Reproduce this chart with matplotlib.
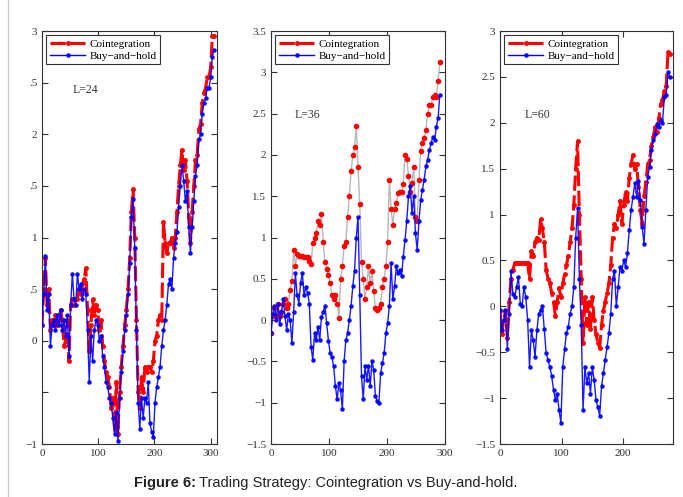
import numpy as np
import matplotlib.pyplot as plt
from matplotlib.lines import Line2D

# ---- data (x step = 3 trading days) ----
coint_24 = [0.15, 0.5, 0.8, 0.35, 0.5, 0.1, 0.2, 0.15, 0.25, 0.15, 0.2, 0.3, 0.2, -0.05, 0.0, 0.2,
            -0.2, 0.35, 0.4, 0.35, 0.4, 0.4, 0.5, 0.45, 0.55, 0.6, 0.7, 0.3, -0.1, 0.15, 0.4, 0.25,
            0.35, 0.3, 0.1, 0.2, -0.05, -0.2, -0.3, -0.35, -0.45, -0.65, -0.55, -0.85, -0.4, -0.9,
            -0.5, -0.25, -0.05, 0.15, 0.3, 0.5, 0.8, 1.25, 1.47, 1.0, 0.2, -0.5, -0.65, -0.35, -0.5,
            -0.25, -0.3, -0.25, -0.25, -0.3, -0.2, 0.0, 0.05, 0.2, 0.25, 0.2, 1.15, 0.95, 0.85, 0.95,
            0.95, 1.0, 0.9, 1.0, 1.25, 1.5, 1.7, 1.85, 1.65, 1.75, 1.55, 1.2, 0.95, 1.25, 1.5, 1.75,
            1.8, 2.05, 2.1, 2.3, 2.4, 2.45, 2.55, 2.55, 2.65, 2.95, 2.95]
bh_24 = [0.15, 0.45, 0.82, 0.3, 0.45, -0.05, 0.15, 0.2, 0.1, 0.25, 0.15, 0.3, 0.1, 0.2, 0.05, 0.25,
         -0.15, 0.35, 0.65, 0.4, 0.35, 0.65, 0.5, 0.55, 0.4, 0.5, 0.45, 0.1, -0.4, 0.05, -0.2, 0.1,
         0.2, 0.15, 0.0, 0.05, -0.15, -0.25, -0.4, -0.45, -0.55, -0.6, -0.75, -0.9, -0.7, -0.97,
         -0.55, -0.3, -0.1, 0.1, 0.25, 0.45, 0.75, 1.2, 1.37, 0.9, 0.1, -0.6, -0.85, -0.55, -0.75,
         -0.55, -0.6, -0.4, -0.8, -0.88, -0.93, -0.6, -0.45, -0.35, -0.25, -0.05, 0.1, 0.2, 0.35,
         0.55, 0.6, 0.5, 0.8, 0.95, 1.05, 1.3, 1.5, 1.7, 1.55, 1.35, 1.45, 1.1, 0.85, 1.1, 1.35,
         1.6, 1.7, 1.95, 2.0, 2.2, 2.3, 2.35, 2.45, 2.45, 2.55, 2.75, 2.82]

coint_36 = [-0.16, 0.05, 0.15, 0.05, 0.2, 0.05, 0.1, 0.2, 0.25, 0.15, 0.2, 0.37, 0.47, 0.85, 0.65,
            0.8, 0.78, 0.78, 0.78, 0.77, 0.77, 0.76, 0.72, 0.68, 0.93, 1.0, 1.05, 1.2, 1.15, 1.28,
            0.95, 0.7, 0.62, 0.55, 0.45, 0.3, 0.25, 0.3, 0.2, 0.03, 0.5, 0.65, 0.9, 0.95, 1.25, 1.5,
            1.8, 2.0, 2.1, 2.35, 1.85, 1.4, 0.7, 0.5, 0.25, 0.4, 0.65, 0.45, 0.6, 0.35, 0.15, 0.12,
            0.15, 0.2, 0.4, 0.5, 0.65, 0.95, 1.7, 1.35, 1.15, 1.35, 1.42, 1.54, 1.55, 1.55, 1.65,
            2.0, 1.95, 1.75, 1.55, 1.66, 1.85, 1.25, 1.2, 1.7, 2.05, 2.15, 2.2, 2.3, 2.5, 2.6, 2.6,
            2.7, 2.72, 2.7, 2.9, 3.12]
bh_36 = [-0.16, 0.08, 0.17, 0.0, 0.19, -0.05, 0.1, 0.25, 0.05, -0.12, 0.08, 0.0, -0.28, 0.1, 0.57,
         0.3, 0.2, 0.45, 0.57, 0.3, 0.4, 0.33, 0.2, -0.32, -0.48, -0.16, -0.24, -0.08, -0.24, 0.04,
         0.1, 0.17, -0.04, -0.25, -0.4, -0.45, -0.56, -0.8, -0.96, -0.76, -0.85, -1.08, -0.5, -0.24,
         -0.16, 0.0, 0.17, 0.41, 0.6, 1.0, 1.25, 0.3, -0.68, -0.96, -0.56, -0.72, -0.55, -0.8, -0.5,
         -0.6, -0.92, -0.98, -1.0, -0.64, -0.52, -0.4, -0.16, -0.04, 0.17, 0.69, 0.25, 0.41, 0.65,
         0.57, 0.61, 0.53, 0.77, 0.97, 1.2, 1.5, 1.62, 1.3, 1.5, 1.05, 0.85, 1.2, 1.45, 1.58, 1.7,
         1.86, 1.94, 2.06, 2.14, 2.22, 2.18, 2.34, 2.45, 2.73]

coint_60 = [-0.05, -0.3, -0.15, -0.05, -0.35, 0.05, 0.3, 0.4, 0.47, 0.47, 0.47, 0.47, 0.47, 0.47,
            0.47, 0.47, 0.3, 0.6, 0.55, 0.7, 0.75, 0.72, 0.95, 0.85, 0.7, 0.4, 0.3, 0.25, 0.15, 0.05,
            -0.1, 0.05, 0.2, 0.1, 0.25, 0.35, 0.45, 0.55, 0.7, 0.85, 1.1, 1.5, 1.8, 1.0, 0.3, -0.4,
            0.1, -0.2, 0.05, -0.25, 0.1, -0.15, -0.3, -0.4, -0.45, -0.2, -0.05, 0.05, 0.15, 0.25,
            0.45, 0.75, 0.9, 0.85, 1.0, 1.15, 0.9, 1.1, 1.25, 1.15, 1.4, 1.55, 1.65, 1.5, 1.55, 1.3,
            1.05, 0.9, 1.2, 1.35, 1.55, 1.6, 1.75, 1.85, 1.95, 1.9, 2.05, 2.2, 2.25, 2.35, 2.4, 2.77,
            2.75]
bh_60 = [-0.04, -0.26, -0.15, -0.04, -0.46, -0.08, 0.38, 0.14, 0.1, 0.21, 0.32, 0.03, 0.0, 0.21,
         0.1, -0.15, -0.66, -0.26, -0.37, -0.55, -0.26, -0.08, -0.04, 0.0, -0.25, -0.51, -0.58,
         -0.66, -0.76, -0.91, -1.02, -0.95, -1.13, -1.27, -0.66, -0.47, -0.29, -0.22, -0.08, 0.0,
         0.21, 0.75, 1.07, 0.3, -0.2, -1.13, -0.66, -0.84, -0.73, -0.95, -0.66, -0.8, -1.02, -1.1,
         -1.19, -0.87, -0.73, -0.58, -0.44, -0.29, -0.08, 0.3, 0.39, 0.0, 0.21, 0.43, 0.39, 0.5,
         0.43, 0.58, 0.83, 1.05, 1.19, 1.34, 1.19, 1.37, 1.16, 0.87, 0.68, 1.05, 1.41, 1.52, 1.7,
         1.81, 1.88, 1.99, 1.95, 2.03, 2.0, 2.28, 2.3, 2.55, 2.5]

labels = ["L=24", "L=36", "L=60"]
xmax = [311, 300, 281]
ylims = [(-1, 3), (-1.5, 3.5), (-1.5, 3)]
xticks = [[0, 100, 200, 300], [0, 100, 200, 300], [0, 100, 200]]
label_pos = [(55, 2.4), (40, 2.45), (40, 2.05)]

plt.rcParams['font.family'] = ['Liberation Serif', 'DejaVu Serif']

fig = plt.figure(figsize=(6.83, 4.97), dpi=100)
lefts = [0.0615, 0.3968, 0.732]
widths = [0.256, 0.2548, 0.2533]

series = [(coint_24, bh_24), (coint_36, bh_36), (coint_60, bh_60)]
for i in range(3):
    ax = fig.add_axes([lefts[i], 0.1066, widths[i], 0.831])
    c, b = series[i]
    xc = np.arange(len(c)) * 3
    xb = np.arange(len(b)) * 3
    if i == 1:
        ax.plot(xc, c, color='0.72', lw=1.0, zorder=1)
        ax.plot(xc, c, 'r.', ms=6, zorder=2)
    else:
        ax.plot(xc, c, color='red', ls=(0, (5, 1.5)), lw=2.2, marker='.', ms=5, zorder=2)
    ax.plot(xb, b, color='blue', lw=1.0, marker='.', ms=4.5, zorder=3, alpha=0.9)

    ax.set_xlim(0, xmax[i])
    ax.set_ylim(*ylims[i])
    ax.set_xticks(xticks[i])
    yt = np.arange(ylims[i][0], ylims[i][1] + 0.01, 0.5)
    ax.set_yticks(yt)
    if i == 0:
        ax.set_yticklabels(['\u22121', '', '0', '.5', '1', '.5', '2', '.5', '3'])
    else:
        ax.set_yticklabels([('%g' % v).replace('-', '\u2212') for v in yt])
    ax.tick_params(direction='in', top=True, right=True, labelsize=8, length=4,
                   colors='#333333', labelcolor='#333333')
    for s in ax.spines.values():
        s.set_color('#333333')
    ax.text(label_pos[i][0], label_pos[i][1], labels[i], fontsize=8.5, color='#333333')

    h1 = Line2D([], [], color='red', ls=(0, (5, 1.5)), lw=2.2, marker='.', ms=5)
    h2 = Line2D([], [], color='blue', lw=1.0, marker='.', ms=4.5)
    leg = ax.legend([h1, h2], ['Cointegration', 'Buy\u2212and\u2212hold'], loc='upper left',
                    fontsize=8, handlelength=3.2, fancybox=False, framealpha=1,
                    borderpad=0.3, labelspacing=0.2, handletextpad=0.4,
                    borderaxespad=0.4)
    leg.get_frame().set_edgecolor('#333333')
    leg.get_frame().set_linewidth(0.8)

# light frame line on the left
fig.add_artist(Line2D([8 / 683, 8 / 683], [0, 1], color='#cccccc', lw=1))

fig.text(0.287, 0.028, 'Figure 6:', fontsize=10.5, fontweight='bold', ha='right', va='center',
         family=['Liberation Sans', 'DejaVu Sans'], color='#222222')
fig.text(0.292, 0.028, 'Trading Strategy: Cointegration vs Buy-and-hold.', fontsize=10.5,
         ha='left', va='center', family=['Liberation Sans', 'DejaVu Sans'], color='#222222')

fig.savefig('out.png', dpi=100)
